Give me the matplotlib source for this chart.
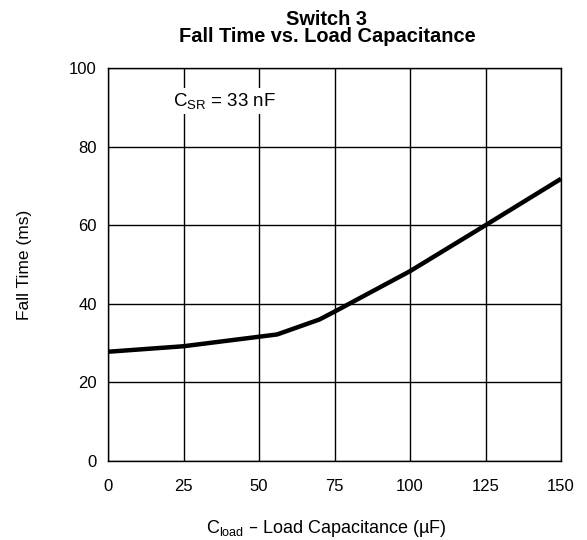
import matplotlib
matplotlib.use("Agg")
import matplotlib.pyplot as plt

plt.rcParams['font.family'] = ['Liberation Sans', 'DejaVu Sans']

# data
cload = [0, 25, 56, 70, 75, 100, 125, 150]
fall_time = [27.8, 29.2, 32.2, 36.0, 38.0, 48.3, 60.0, 71.8]

xticks = [0, 25, 50, 75, 100, 125, 150]
yticks = [0, 20, 40, 60, 80, 100]

W, H = 587, 540
fig = plt.figure(figsize=(W / 100, H / 100), dpi=100)
ax = fig.add_axes([108 / W, 1 - 461 / H, 453 / W, 393 / H])

ax.plot(cload, fall_time, color='black', linewidth=3.2, solid_capstyle='butt', zorder=3)

ax.set_xlim(0, 150)
ax.set_ylim(0, 100)
ax.set_xticks(xticks)
ax.set_yticks(yticks)
ax.grid(True, color='black', linewidth=1.0)
ax.tick_params(axis='x', length=0, labelsize=12, pad=13)
ax.tick_params(axis='y', length=0, labelsize=12, pad=8)
for s in ax.spines.values():
    s.set_linewidth(1.0)

# two-line title, tight line spacing as in the reference
fig.text(327 / W, 1 - 42 / H, "Switch 3\nFall Time vs. Load Capacitance", fontsize=14.4,
         fontweight='bold', ha='center', va='baseline', linespacing=0.88,
         multialignment='center')

fig.text(326 / W, 1 - 533 / H, r"C$_{\mathregular{load}}$ – Load Capacitance (µF)",
         fontsize=13, ha='center', va='baseline')
fig.text(25 / W, 1 - 265 / H, "Fall Time (ms)", fontsize=12.5, rotation=90,
         ha='center', va='center')

ax.text(21.5, 91.5, r"C$_{\mathregular{SR}}$ = 33 nF", fontsize=13.5, ha='left', va='center',
        bbox=dict(facecolor='white', edgecolor='none', pad=2), zorder=4)

fig.savefig("out.png", dpi=100)
